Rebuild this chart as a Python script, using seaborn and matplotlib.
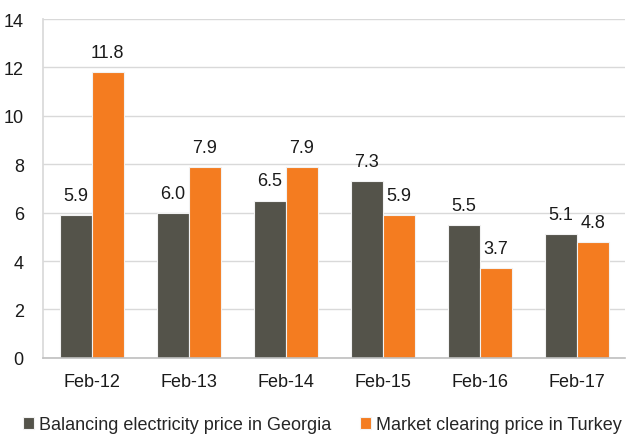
import pandas as pd
import matplotlib.pyplot as plt
import seaborn as sns

periods = ["Feb-12", "Feb-13", "Feb-14", "Feb-15", "Feb-16", "Feb-17"]
georgia = [5.9, 6.0, 6.5, 7.3, 5.5, 5.1]
turkey = [11.8, 7.9, 7.9, 5.9, 3.7, 4.8]
series_names = ["Balancing electricity price in Georgia", "Market clearing price in Turkey"]
colors = ["#54534A", "#F47C20"]


def main():
    df = pd.DataFrame({
        "period": periods * 2,
        "value": georgia + turkey,
        "series": [series_names[0]] * len(periods) + [series_names[1]] * len(periods),
    })

    sns.set_theme(style="white")
    plt.rcParams["font.family"] = ["Liberation Sans", "DejaVu Sans"]

    fig = plt.figure(figsize=(6.27, 4.35), dpi=100)
    ax = fig.add_axes([0.069, 0.175, 0.928, 0.779])

    sns.barplot(data=df, x="period", y="value", hue="series", palette=colors,
                saturation=1, width=0.66, edgecolor="#F2F2F2", linewidth=0.8, ax=ax)

    for cont in ax.containers:
        ax.bar_label(cont, fmt="%.1f", padding=8, fontsize=13, color="#1a1a1a")

    ax.set_ylim(0, 14)
    ax.set_yticks(range(0, 15, 2))
    ax.set_xlim(-0.5, len(periods) - 0.5)
    ax.yaxis.grid(True, color="#D9D9D9", linewidth=1)
    ax.set_axisbelow(True)
    ax.set_xlabel("")
    ax.set_ylabel("")
    ax.tick_params(axis="both", labelsize=13, colors="#1a1a1a", length=0)
    ax.tick_params(axis="x", pad=11)
    ax.tick_params(axis="y", pad=14)

    for side in ["top", "right"]:
        ax.spines[side].set_visible(False)
    ax.spines["left"].set_color("#D9D9D9")
    ax.spines["bottom"].set_color("#BFBFBF")
    ax.spines["bottom"].set_linewidth(1.2)

    ax.legend(loc="upper center", bbox_to_anchor=(0.48, -0.125), ncol=2, frameon=False,
              fontsize=13, handlelength=0.6, handleheight=0.6, handletextpad=0.3,
              columnspacing=1.6)

    fig.savefig("out.png", dpi=100)
    plt.close(fig)


if __name__ == "__main__":
    main()
